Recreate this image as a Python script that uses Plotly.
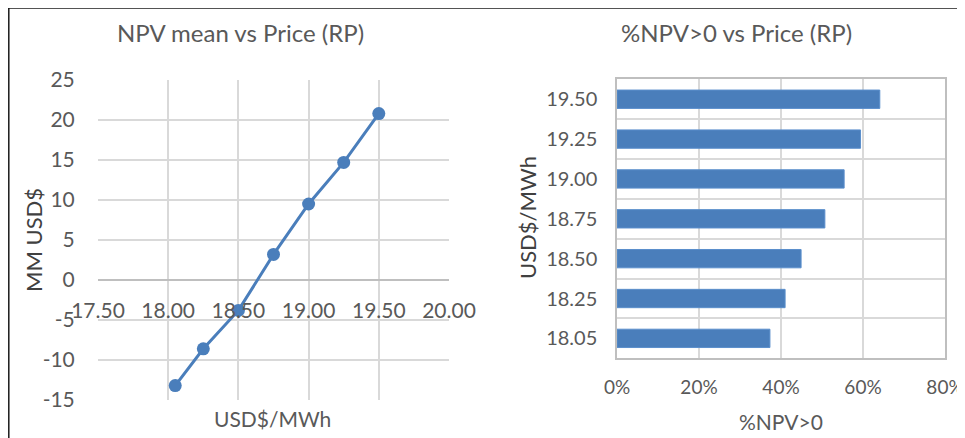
import plotly.graph_objects as go

# data
price = [18.05, 18.25, 18.50, 18.75, 19.00, 19.25, 19.50]
npv_mean = [-13.2, -8.6, -3.8, 3.2, 9.5, 14.7, 20.8]

price_labels = ["18.05", "18.25", "18.50", "18.75", "19.00", "19.25", "19.50"]
pct_npv_pos = [0.373, 0.410, 0.449, 0.507, 0.554, 0.594, 0.641]

npv_ticks = [-15, -10, -5, 0, 5, 10, 15, 20, 25]
npv_ticktext = ["-15", "-10", "-5", "0", "5", "10", "15", "20", "25"]

# the page body adds an 8px offset, so the figure starts at (8, 8)
OFF = 8
W, H = 965 - OFF, 438 - OFF
BLUE = "#4A7EBB"
GRID = "#D9D9D9"
TXT = "#595959"
FONT = "Lato"


def px(x):
    return (x - OFF) / W


def py(y):
    return 1 - (y - OFF) / H


fig = go.Figure()

fig.add_trace(go.Scatter(
    x=price, y=npv_mean, mode="lines+markers",
    line=dict(color=BLUE, width=3),
    marker=dict(color=BLUE, size=13),
    xaxis="x", yaxis="y", showlegend=False,
))

fig.add_trace(go.Bar(
    x=pct_npv_pos, y=price_labels, orientation="h",
    marker=dict(color=BLUE, line=dict(color="#5B8FCC", width=1)),
    width=0.46, xaxis="x2", yaxis="y2", showlegend=False,
))

# left panel geometry (reference pixels)
ly0, ly1 = py(400), py(80)
zero_pos = ly0 + 15 / 40 * (ly1 - ly0)

tickfont = dict(family=FONT, size=21, color=TXT)
tickfont2 = dict(family=FONT, size=20, color=TXT)

fig.update_layout(
    template="none",
    width=W, height=H,
    margin=dict(l=0, r=0, t=0, b=0, autoexpand=False),
    paper_bgcolor="white", plot_bgcolor="white",
    font=dict(family=FONT, color=TXT),
    xaxis=dict(
        domain=[px(98), px(449)], range=[17.5, 20.0], dtick=0.5, tick0=17.5,
        tickformat=".2f", anchor="free", position=zero_pos, automargin=False,
        showgrid=True, gridcolor=GRID, gridwidth=1.5, zeroline=False,
        showline=False, ticks="outside", ticklen=12, tickcolor="rgba(0,0,0,0)",
        tickfont=tickfont,
    ),
    yaxis=dict(
        domain=[ly0, ly1], range=[-15, 25], automargin=False,
        tickmode="array", tickvals=npv_ticks, ticktext=npv_ticktext,
        showgrid=True, gridcolor=GRID, gridwidth=1.5,
        zeroline=True, zerolinecolor="#BFBFBF", zerolinewidth=1.5,
        showline=False, ticks="outside", ticklen=18, tickcolor="rgba(0,0,0,0)",
        tickfont=tickfont,
    ),
    xaxis2=dict(
        domain=[px(617), px(945)], range=[0, 0.8], dtick=0.2, tickformat=".0%",
        showgrid=True, gridcolor=GRID, gridwidth=1.5, zeroline=False,
        showline=True, linecolor="#BFBFBF", linewidth=1.5, mirror=True,
        ticks="outside", ticklen=11, tickcolor="rgba(0,0,0,0)",
        tickfont=dict(family=FONT, size=19, color=TXT), anchor="y2",
        automargin=False, ticklabeloverflow="allow",
    ),
    yaxis2=dict(
        domain=[py(358.3), py(79.3)], type="category",
        categoryorder="array", categoryarray=price_labels,
        tickson="boundaries", showgrid=True, gridcolor=GRID, gridwidth=1.5,
        showline=True, linecolor="#BFBFBF", linewidth=1.5, mirror=True,
        ticks="", ticklabelstandoff=14,
        tickfont=tickfont2, anchor="x2", automargin=False,
    ),
    shapes=[
        dict(type="line", xref="paper", yref="paper",
             x0=0, x1=1, y0=py(8), y1=py(8),
             line=dict(color="#1A1A1A", width=1.5)),
        dict(type="line", xref="paper", yref="paper",
             x0=px(8.8), x1=px(8.8), y0=0, y1=py(8),
             line=dict(color="#1A1A1A", width=1.5)),
    ],
)


def ann(text, x, y, size, angle=0, color=TXT):
    fig.add_annotation(
        text=text, x=px(x), y=py(y), xref="paper", yref="paper",
        showarrow=False, textangle=angle, xanchor="center", yanchor="middle",
        font=dict(family=FONT, size=size, color=color),
    )


ann("NPV mean vs Price (RP)", 240, 33, 24)
ann("%NPV>0 vs Price (RP)", 736, 33, 24)
ann("MM USD$", 33, 240, 22, angle=-90, color="#404040")
ann("USD$/MWh", 272, 418, 21)
ann("USD$/MWh", 527, 218, 22, angle=-90, color="#404040")
ann("%NPV>0", 781, 421, 21)

fig.write_html("out.html")
